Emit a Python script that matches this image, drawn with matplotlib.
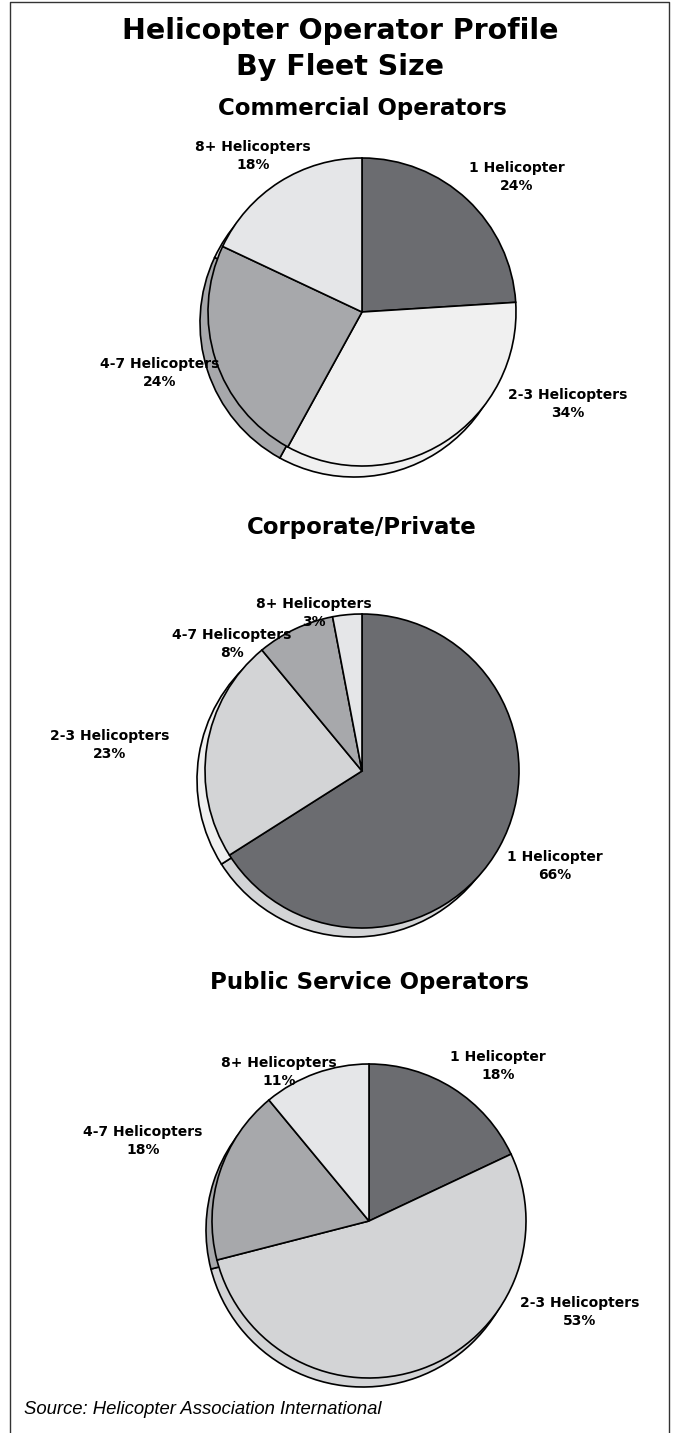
import matplotlib.pyplot as plt

plt.rcParams['font.family'] = ['DejaVu Sans']

# data
categories = ['1 Helicopter', '2-3 Helicopters', '4-7 Helicopters', '8+ Helicopters']
commercial = [24, 34, 24, 18]
corporate = [66, 23, 8, 3]
public = [18, 53, 18, 11]

W, H = 679, 1433
fig = plt.figure(figsize=(W / 100, H / 100), dpi=100)
ax = fig.add_axes([0, 0, 1, 1])

dark = '#6b6c70'
c_light = '#f0f0f0'
c_gray = '#a7a8ab'
c_pale = '#e5e6e8'
c_lgray = '#d3d4d6'

# (values, centre px, radius, colours, shadow colours, shadow offset, title, title y, label positions)
pies = [
    (commercial, (362, 312), 154, [dark, c_light, c_gray, c_pale],
     [dark, c_light, c_gray, c_pale], (-8, 11), 'Commercial Operators', 108,
     [(517, 177), (568, 404), (160, 373), (253, 156)]),
    (corporate, (362, 771), 157, [dark, c_lgray, c_gray, c_pale],
     [c_lgray, c_light, c_gray, c_pale], (-8, 9), 'Corporate/Private', 527,
     [(555, 866), (110, 745), (232, 644), (314, 613)]),
    (public, (369, 1221), 157, [dark, c_lgray, c_gray, c_pale],
     [dark, c_lgray, c_gray, c_pale], (-6, 9), 'Public Service Operators', 983,
     [(498, 1066), (580, 1312), (143, 1141), (279, 1072)]),
]

for vals, (cx, cy), r, cols, scols, (dx, dy), title, ty, lpos in pies:
    wp = dict(edgecolor='black', linewidth=1.2)
    # shadow / side of the pie
    ax.pie(vals, colors=scols, startangle=90, counterclock=False,
           center=(cx + dx, H - (cy + dy)), radius=r, wedgeprops=wp, frame=True)
    ax.pie(vals, colors=cols, startangle=90, counterclock=False,
           center=(cx, H - cy), radius=r, wedgeprops=wp, frame=True)
    ax.text(cx, H - ty, title, ha='center', va='center', fontsize=16.5,
            fontweight='bold')
    for name, v, (lx, ly) in zip(categories, vals, lpos):
        ax.text(lx, H - ly, f'{name}\n{v}%', ha='center', va='center',
                fontsize=10, fontweight='bold', linespacing=1.3)

ax.text(340, H - 31, 'Helicopter Operator Profile', ha='center',
        va='center', fontsize=20.5, fontweight='bold')
ax.text(340, H - 67, 'By Fleet Size', ha='center',
        va='center', fontsize=20.5, fontweight='bold')
ax.text(24, H - 1409, 'Source: Helicopter Association International', ha='left',
        va='center', fontsize=13.3, fontstyle='italic', family='Liberation Sans')

# frame (open at the bottom)
ax.plot([10, 10, 669, 669], [0, H - 2, H - 2, 0], color='#333333', lw=1.0)

ax.set_xlim(0, W)
ax.set_ylim(0, H)
ax.set_aspect('auto')
ax.axis('off')

fig.savefig('out.png', dpi=100)
